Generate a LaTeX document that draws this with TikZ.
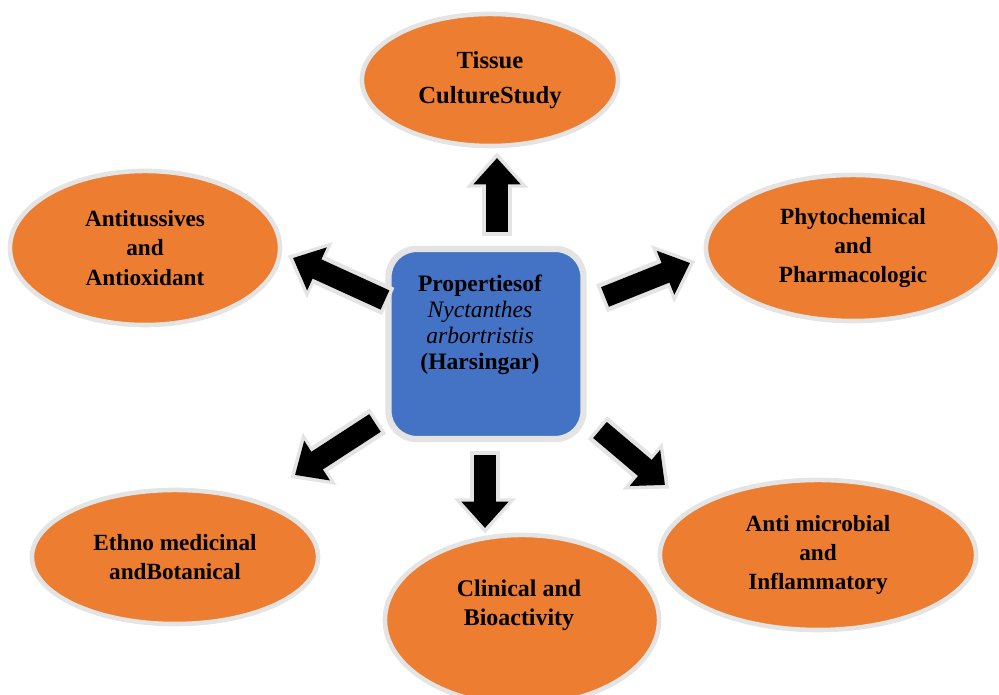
\documentclass[tikz,border=0pt]{standalone}
\usepackage{fontspec}
\setmainfont{Liberation Serif}
\usetikzlibrary{arrows.meta,shapes.geometric,calc}
\definecolor{petal}{HTML}{ED7D31}
\definecolor{core}{HTML}{4472C4}
\definecolor{rim}{HTML}{E4E4E4}

\begin{document}
\begin{tikzpicture}[x=0.01cm,y=-0.01cm]
            \tikzset{topic/.style = {ellipse, fill=petal, draw=rim, line width=1.3pt, inner sep=0pt, align=center, font=\fontsize{6.6}{8.3}\selectfont\bfseries}}
            \tikzset{hub/.style = {rectangle, rounded corners=8pt, fill=core, draw=rim, line width=1.8pt, minimum width=1.95cm, minimum height=1.9cm}}
            \tikzset{blockarrow/.style = {line width=6pt, -{Triangle[length=7.5pt,width=13pt]},
                preaction={draw=rim, line width=8.5pt, -{Triangle[length=10pt,width=17pt]}, shorten >=-1.6pt, shorten <=-1pt}}}
            \useasboundingbox (0,0) rectangle (999,695);
            
            % hub
            \node[hub, label={[font=\fontsize{6.7}{7.4}\selectfont, align=center, xshift=-0.06cm, yshift=0.19cm]center:{\bfseries Propertiesof\\\textit{Nyctanthes}\\\textit{arbortristis}\\\bfseries(Harsingar)}}] (hub) at (486,344) {};
            
            % topics
            \node[topic, minimum width=2.56cm, minimum height=1.32cm, font=\fontsize{7}{10}\selectfont\bfseries] (tissue) at (490,80) {Tissue\\CultureStudy};
            \node[topic, minimum width=2.7cm, minimum height=1.54cm] (anti) at (145,248) {Antitussives\\and\\Antioxidant};
            \node[topic, minimum width=2.94cm, minimum height=1.46cm] (phyto) at (853,248) {Phytochemical\\and\\Pharmacologic};
            \node[topic, minimum width=2.86cm, minimum height=1.34cm] (ethno) at (175,557) {Ethno medicinal\\andBotanical};
            \node[topic, minimum width=2.74cm, minimum height=1.7cm, label={[font=\fontsize{6.8}{8.3}\selectfont\bfseries, align=center, xshift=-0.03cm, yshift=0.15cm]center:{Clinical and\\Bioactivity}}] (clin) at (522,620) {};
            \node[topic, minimum width=3.16cm, minimum height=1.5cm] (micro) at (818,555) {Anti microbial\\and\\Inflammatory};
            
            % arrow ends
            \coordinate (tU) at (497,232);  \coordinate (hU) at (497,158);
            \coordinate (tUL) at (385,300); \coordinate (hUL) at (293,258);
            \coordinate (tUR) at (605,297); \coordinate (hUR) at (690,263);
            \coordinate (tDL) at (375,423); \coordinate (hDL) at (295,475);
            \coordinate (tD) at (485,455);  \coordinate (hD) at (485,528);
            \coordinate (tDR) at (600,430); \coordinate (hDR) at (665,485);
            
            % arrows
            \foreach \a in {U,UL,UR,DL,D,DR} {\draw[blockarrow] (t\a) -- (h\a);}
            
\end{tikzpicture}
\end{document}
